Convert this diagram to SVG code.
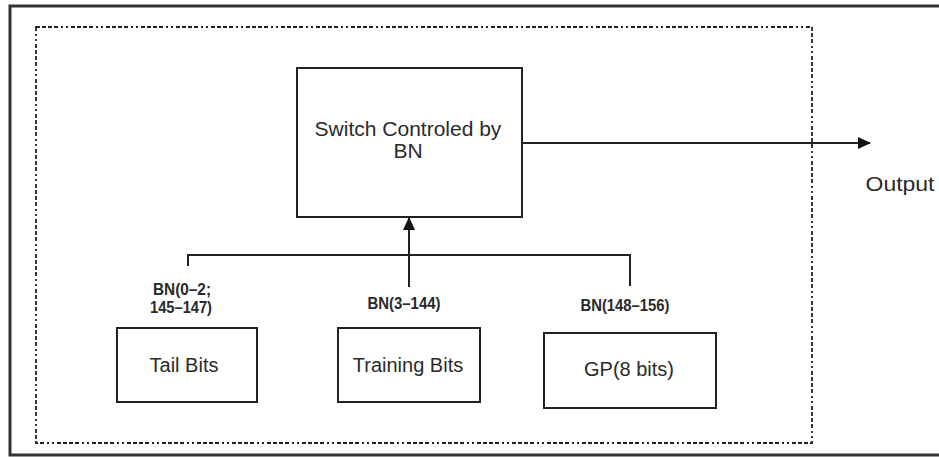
<svg xmlns="http://www.w3.org/2000/svg" width="939" height="457" viewBox="0 0 939 457">
<style>
.box{fill:#fff;stroke:#222;stroke-width:2}
.ln{fill:none;stroke:#222;stroke-width:2}
.t{font-family:"Liberation Sans",Arial,sans-serif;fill:#2a2a2a;text-anchor:middle}
.big{font-size:21px}
.mid{font-size:20px}
.sm{font-size:16px;font-weight:bold}
</style>
<defs>
<marker id="ah" markerWidth="13" markerHeight="12" refX="12" refY="6" orient="auto" markerUnits="userSpaceOnUse">
<path d="M0,0 L13,6 L0,12 Z" fill="#111"/>
</marker>
</defs>
<rect x="0" y="0" width="939" height="457" fill="#fff"/>
<rect x="10" y="6" width="940" height="449" fill="none" stroke="#333" stroke-width="3"/>
<rect x="36" y="27" width="776" height="416" fill="none" stroke="#222" stroke-width="1.8" stroke-dasharray="4 2 4 2 4 2 4 3 2 3 2 3"/>
<g id="connectors">
<path class="ln" d="M188,266 V255 H630 V286"/>
<path class="ln" d="M409,287 V255"/>
<path class="ln" d="M409,255 V218" marker-end="url(#ah)"/>
<path class="ln" d="M522,143 H870" marker-end="url(#ah)"/>
<text class="t sm" x="182" y="295" textLength="58" lengthAdjust="spacingAndGlyphs">BN(0–2;</text>
<text class="t sm" x="181" y="313" textLength="62" lengthAdjust="spacingAndGlyphs">145–147)</text>
<text class="t sm" x="404" y="309" textLength="73" lengthAdjust="spacingAndGlyphs">BN(3–144)</text>
<text class="t sm" x="625" y="311" textLength="89" lengthAdjust="spacingAndGlyphs">BN(148–156)</text>
</g>
<g id="switch">
<rect class="box" x="297" y="68" width="225" height="149"/>
<text class="t big" x="408" y="136">Switch Controled by</text>
<text class="t big" x="408" y="158">BN</text>
</g>
<g id="tail">
<rect class="box" x="117" y="328" width="140" height="74"/>
<text class="t mid" x="184" y="372">Tail Bits</text>
</g>
<g id="training">
<rect class="box" x="338" y="328" width="142" height="74"/>
<text class="t mid" x="408" y="372">Training Bits</text>
</g>
<g id="gp">
<rect class="box" x="544" y="333" width="172" height="75"/>
<text class="t mid" x="629" y="376">GP(8 bits)</text>
</g>
<g id="output">
<text class="t big" x="900" y="191" textLength="69" lengthAdjust="spacingAndGlyphs">Output</text>
</g>
</svg>
